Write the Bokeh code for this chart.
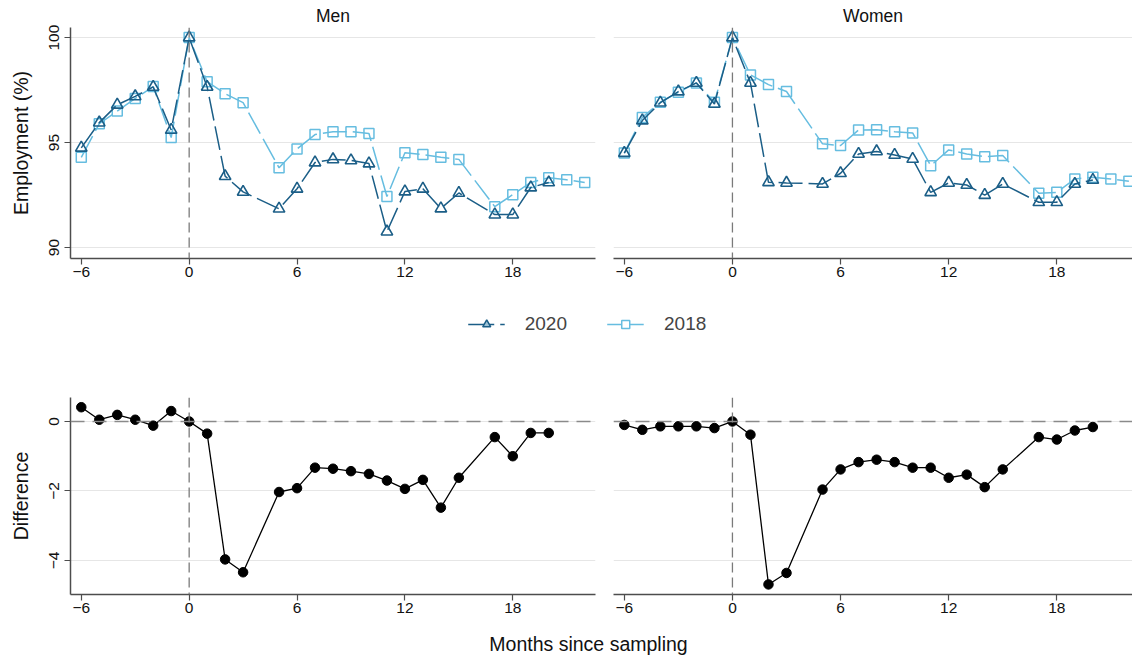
from bokeh.plotting import figure
from bokeh.layouts import column, row
from bokeh.models import Span, FixedTicker, Legend, LegendItem, Range1d
from bokeh.core.properties import value
from bokeh.embed import file_html
from bokeh.resources import INLINE

FONT = "Liberation Sans"
C2020 = "#1b5e87"
C2018 = "#66bde0"

months = [-6, -5, -4, -3, -2, -1, 0, 1, 2, 3, 5, 6, 7, 8, 9, 10, 11, 12, 13, 14, 15, 17, 18, 19, 20]
months_2018 = months + [21, 22]

men_2020 = [94.75, 95.95, 96.8, 97.2, 97.65, 95.6, 100, 97.65, 93.4, 92.65, 91.85, 92.8, 94.05, 94.2,
            94.15, 94.0, 90.76, 92.67, 92.8, 91.86, 92.6, 91.57, 91.57, 92.86, 93.1]
men_2018 = [94.3, 95.9, 96.5, 97.1, 97.67, 95.24, 100, 97.9, 97.33, 96.9, 93.8, 94.7, 95.38, 95.52,
            95.52, 95.43, 92.43, 94.52, 94.43, 94.3, 94.2, 91.95, 92.52, 93.1, 93.33, 93.23, 93.1]
men_diff = [0.41, 0.05, 0.19, 0.05, -0.12, 0.30, 0, -0.35, -3.97, -4.34, -2.03, -1.92, -1.33, -1.36,
            -1.43, -1.51, -1.70, -1.94, -1.68, -2.48, -1.62, -0.45, -1.0, -0.33, -0.33]

women_2020 = [94.5, 96.05, 96.9, 97.43, 97.84, 96.84, 100, 97.84, 93.11, 93.08, 93.03, 93.54, 94.46, 94.58,
              94.41, 94.22, 92.63, 93.08, 92.98, 92.5, 93.03, 92.16, 92.16, 93.03, 93.22]
women_2018 = [94.5, 96.2, 96.92, 97.4, 97.84, 96.92, 100, 98.22, 97.76, 97.43, 94.94, 94.86, 95.6, 95.61,
              95.52, 95.46, 93.9, 94.65, 94.46, 94.33, 94.38, 92.59, 92.63, 93.27, 93.35, 93.27, 93.16]
women_diff = [-0.10, -0.24, -0.14, -0.14, -0.14, -0.19, 0, -0.38, -4.69, -4.36, -1.96, -1.38, -1.17, -1.10,
              -1.17, -1.33, -1.33, -1.62, -1.53, -1.89, -1.38, -0.45, -0.52, -0.26, -0.16]

x_ticks = [-6, 0, 6, 12, 18]
emp_ticks = [90, 95, 100]
diff_ticks = [-4, -2, 0]
panel_titles = ["Men", "Women"]
series_labels = ["2020", "2018"]


def style(p, yticks, show_y, ylabel=None):
    p.outline_line_color = None
    p.xgrid.visible = False
    p.ygrid.ticker = FixedTicker(ticks=yticks)
    p.ygrid.grid_line_color = "#e6e6e6"
    p.ygrid.grid_line_width = 1.2
    p.xaxis.ticker = FixedTicker(ticks=x_ticks)
    p.yaxis.ticker = FixedTicker(ticks=yticks)
    for ax in (p.xaxis, p.yaxis):
        ax.axis_line_color = "#4d4d4d"
        ax.axis_line_width = 1.5
        ax.major_tick_line_color = "#4d4d4d"
        ax.major_tick_line_width = 1.2
        ax.major_tick_out = 6
        ax.major_tick_in = 0
        ax.minor_tick_line_color = None
        ax.major_label_text_font = FONT
        ax.major_label_text_font_size = "15.5px"
        ax.major_label_text_color = "#111111"
        ax.axis_label_text_font = FONT
        ax.axis_label_text_font_size = "19.5px"
        ax.axis_label_text_font_style = "normal"
        ax.axis_label_text_color = "#111111"
    p.xaxis.major_label_standoff = 2
    p.yaxis.major_label_orientation = "vertical"
    p.yaxis.major_label_standoff = 5
    p.yaxis.axis_label_standoff = 15
    if show_y:
        p.yaxis.axis_label = ylabel
    else:
        p.yaxis.visible = False


def make_top(title, v2020, v2018, left):
    xr = Range1d(-6.6, 22.6) if left else Range1d(-6.6, 22.2)
    p = figure(frame_width=525 if left else 519, frame_height=231,
               x_range=xr, y_range=Range1d(89.48, 100.48),
               min_border_left=70 if left else 13, min_border_right=5 if left else 0,
               min_border_top=27, min_border_bottom=30,
               toolbar_location=None, output_backend="svg", title=title)
    p.title.align = "center"
    p.title.text_font = FONT
    p.title.text_font_size = "17.5px"
    p.title.text_font_style = "normal"
    p.title.text_color = "#111111"
    p.title.standoff = 4
    p.title.offset = 0
    style(p, emp_ticks, left, "Employment (%)")
    p.add_layout(Span(location=0, dimension="height", line_color="#7a7a7a",
                      line_width=1.3, line_dash="10 5"))
    p.line(months_2018, v2018, line_color=C2018, line_width=1.5, line_dash="24 6")
    p.scatter(months_2018, v2018, marker="square", size=10, line_color=C2018,
              line_width=1.5, fill_alpha=0)
    p.line(months, v2020, line_color=C2020, line_width=1.5, line_dash="24 6")
    p.scatter(months, v2020, marker="triangle", size=11.5, line_color=C2020,
              line_width=1.6, fill_alpha=0)
    return p


def make_bottom(vdiff, left):
    xr = Range1d(-6.6, 22.6) if left else Range1d(-6.6, 22.2)
    p = figure(frame_width=525 if left else 519, frame_height=197,
               x_range=xr, y_range=Range1d(-4.98, 0.69),
               min_border_left=70 if left else 13, min_border_right=5 if left else 0,
               min_border_top=37, min_border_bottom=30,
               toolbar_location=None, output_backend="svg")
    style(p, diff_ticks, left, "Difference")
    p.add_layout(Span(location=0, dimension="height", line_color="#7a7a7a",
                      line_width=1.3, line_dash="10 5"))
    p.add_layout(Span(location=0, dimension="width", line_color="#8a8a8a",
                      line_width=1.5, line_dash="14 8"))
    p.line(months, vdiff, line_color="black", line_width=1.3)
    p.scatter(months, vdiff, marker="circle", size=9.5, color="black")
    return p


top_men = make_top(panel_titles[0], men_2020, men_2018, True)
top_women = make_top(panel_titles[1], women_2020, women_2018, False)
bot_men = make_bottom(men_diff, True)
bot_women = make_bottom(women_diff, False)

# legend strip (frame from x=42 to 1132 so that its centre is at x=587).
# The proxy renderers below use the series data but lie outside this strip's ranges,
# so only their legend glyphs are visible.
lg = figure(frame_width=1090, frame_height=72, x_range=Range1d(1000, 1001),
            y_range=Range1d(1000, 1001),
            toolbar_location=None, output_backend="svg",
            min_border_left=42, min_border_right=0,
            min_border_top=0, min_border_bottom=0)
lg.axis.visible = False
lg.grid.visible = False
lg.outline_line_color = None
l1 = lg.line(months, men_2020, line_color=C2020, line_width=1.5, line_dash="26 6")
s1 = lg.scatter(months, men_2020, marker="triangle", size=11.5, line_color=C2020, line_width=1.5,
                fill_color="#9ec3d6")
l2 = lg.line(months_2018, men_2018, line_color=C2018, line_width=1.5)
s2 = lg.scatter(months_2018, men_2018, marker="square", size=10, line_color=C2018, line_width=1.5,
                fill_color="white")
legend = Legend(items=[LegendItem(label=series_labels[0], renderers=[l1, s1]),
                       LegendItem(label=series_labels[1], renderers=[l2, s2])],
                location="center", orientation="horizontal",
                border_line_color=None, background_fill_alpha=0,
                label_text_font=FONT, label_text_font_size="19px",
                glyph_width=37, glyph_height=20, label_standoff=20, spacing=40,
                padding=5, margin=0)
lg.add_layout(legend, "center")

# x label strip: same frame geometry as the legend strip (frames are aligned in a column)
xl = figure(frame_width=1090, frame_height=32, x_range=Range1d(42, 1132), y_range=Range1d(0, 32),
            toolbar_location=None, output_backend="svg",
            min_border_left=42, min_border_right=0,
            min_border_top=0, min_border_bottom=0)
xl.axis.visible = False
xl.grid.visible = False
xl.outline_line_color = None
xl.text(x=[588], y=[13], text=["Months since sampling"], text_align="center",
        text_baseline="middle", text_font=value(FONT), text_font_size="19.5px",
        text_color="#111111")

layout = column(row(top_men, top_women), lg, row(bot_men, bot_women), xl)

open("out.html", "w").write(file_html(layout, INLINE))
